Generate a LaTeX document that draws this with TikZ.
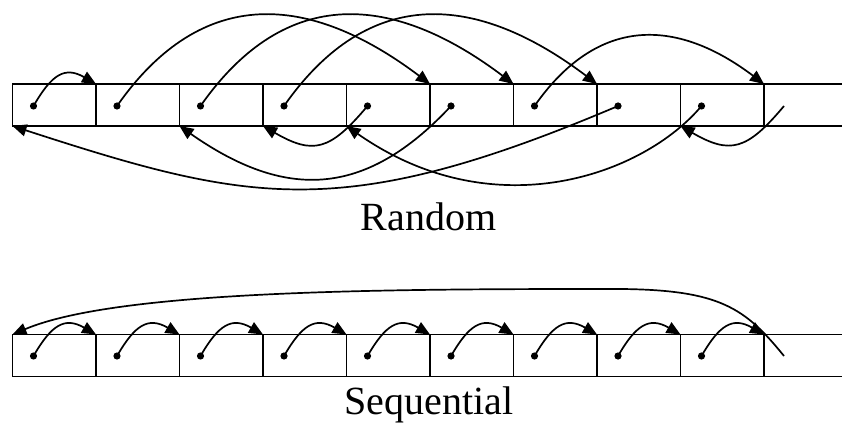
\documentclass[tikz,border=0pt]{standalone}
\usepackage{fontspec}
\setmainfont{Liberation Serif}
\usetikzlibrary{arrows.meta}

\begin{document}
\begin{tikzpicture}[x=1pt,y=1pt,line width=1.7pt,
    cell/.style={draw,rectangle,minimum width=83.5pt,minimum height=42pt,inner sep=0pt,outer sep=0pt},
    ptr/.style={-{Triangle[length=14pt,width=12pt]}},
    hop/.style={ptr,out=60,in=150,looseness=1.4},
    jump/.style={ptr,out=55,in=143,looseness=1.22},
    back/.style={ptr,out=230,in=330,looseness=1.4},
    caption/.style={font=\fontsize{40}{44}\selectfont,anchor=base}]
  \useasboundingbox (0,0) rectangle (842,423);
  \foreach \i in {1,...,9} {
    \node[cell] (r\i) at ({54.25+83.5*(\i-1)},318) {};
    \node[cell] (s\i) at ({54.25+83.5*(\i-1)},67.5) {};
    \coordinate (rd\i) at ({33.5+83.5*(\i-1)},317);
    \coordinate (sd\i) at ({33.5+83.5*(\i-1)},67);
    \fill (rd\i) circle (3.6) (sd\i) circle (3.6);
  }
  \coordinate (rd10) at (784,317);
  \coordinate (sd10) at (784,67);
  \draw (r9.north east) -- ++(78,0) (r9.south east) -- ++(78,0);
  \draw (s9.north east) -- ++(78,0) (s9.south east) -- ++(78,0);

  \draw[hop] (rd1) to (r2.north west);
  \draw[jump] (rd2) to (r6.north west);
  \draw[jump] (rd3) to (r7.north west);
  \draw[jump] (rd4) to (r8.north west);
  \draw[jump] (rd7) to (r9.north east);
  \draw[back] (rd5) to (r4.south west);
  \draw[back] (rd10) to (r9.south west);
  \draw[ptr] (rd6) to[out=227,in=325,looseness=1.2] (r3.south west);
  \draw[ptr] (rd9) to[out=230,in=325,out distance=90,in distance=180] (r5.south west);
  \draw[ptr] (rd8) to[out=203,in=342,out distance=300,in distance=250] (r1.south west);
  \node[caption] (random) at (428.5,192) {Random};

  \foreach \i [evaluate=\i as \j using int(\i+1)] in {1,...,8}
    \draw[hop] (sd\i) to (s\j.north west);
  \draw[hop] (sd9) to (s9.north east);
  \draw[ptr] (sd10) .. controls (745,115) and (720,133) .. (621,134)
    .. controls (400,134) and (120,134) .. (s1.north west);
  \node[caption] (sequential) at (429,9) {Sequential};
\end{tikzpicture}
\end{document}
